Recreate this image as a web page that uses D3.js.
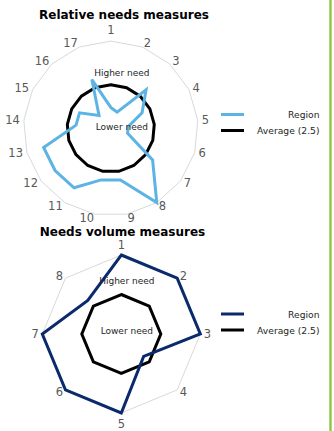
<!DOCTYPE html>
<html>
<head>
<meta charset="utf-8">
<script src="https://cdn.jsdelivr.net/npm/d3@7"></script>
<style>
  body { margin: 0; background: #fff; }
  svg { display: block; font-family: "DejaVu Sans", Verdana, sans-serif; }
</style>
</head>
<body>
<svg id="chart" width="334" height="431"></svg>
<script>
// relative needs (17 measures)
var relAxes = ["1", "2", "3", "4", "5", "6", "7", "8", "9", "10", "11", "12", "13", "14", "15", "16", "17"];
var relRegion = [1.2, 1, 3, 2, 1, 1, 3, 5, 3, 3, 4, 4, 4, 2, 2, 1, 3];
var relAverage = [2.5, 2.5, 2.5, 2.5, 2.5, 2.5, 2.5, 2.5, 2.5, 2.5, 2.5, 2.5, 2.5, 2.5, 2.5, 2.5, 2.5];

// needs volume (8 measures)
var volAxes = ["1", "2", "3", "4", "5", "6", "7", "8"];
var volRegion = [5, 5, 5, 2, 5, 5, 5, 3];
var volAverage = [2.5, 2.5, 2.5, 2.5, 2.5, 2.5, 2.5, 2.5];

var seriesNames = ["Region", "Average (2.5)"];
var maxValue = 5;

var svg = d3.select("#chart");

// green rule down the right edge
svg.append("rect")
    .attr("x", 329.3)
    .attr("y", 0)
    .attr("width", 2.4)
    .attr("height", 431)
    .attr("fill", "#8dc63f");

function radar(opts) {
    var n = opts.axes.length;
    var r = d3.scaleLinear().domain([0, maxValue]).range([0, opts.radius]);
    var angle = function(i) { return i * 2 * Math.PI / n; };

    var g = svg.append("g")
        .attr("transform", "translate(" + opts.cx + "," + opts.cy + ")");

    var line = d3.lineRadial()
        .angle(function(d, i) { return angle(i); })
        .radius(function(d) { return r(d); })
        .curve(d3.curveLinearClosed);

    // outer grid polygon
    g.append("path")
        .attr("d", line(opts.axes.map(function() { return maxValue; })))
        .attr("fill", "none")
        .attr("stroke", "#d9d9d9")
        .attr("stroke-width", 1);

    // axis labels, anchored on the side facing away from the centre
    var lr = r(maxValue) + opts.gap;
    g.selectAll("text.axis")
        .data(opts.axes)
        .enter().append("text")
        .attr("class", "axis")
        .attr("font-size", 11.5)
        .attr("fill", "#595959")
        .attr("dominant-baseline", "central")
        .text(function(d) { return d; })
        .each(function(d, i) {
            var s = Math.sin(angle(i)), c = Math.cos(angle(i));
            var vertical = Math.abs(s) < 0.01;
            var anchor = vertical ? "middle" : (s > 0 ? "start" : "end");
            var y = -c * lr - (vertical ? Math.sign(c) * 7 : 0);
            d3.select(this)
                .attr("text-anchor", anchor)
                .attr("x", vertical ? 0 : s * lr)
                .attr("y", y);
        });

    // average series
    g.append("path")
        .attr("d", line(opts.average))
        .attr("fill", "none")
        .attr("stroke", "#000")
        .attr("stroke-width", 3)
        .attr("stroke-linejoin", "miter");

    // region series
    g.append("path")
        .attr("d", line(opts.region))
        .attr("fill", "none")
        .attr("stroke", opts.color)
        .attr("stroke-width", 3)
        .attr("stroke-linejoin", "miter");

    // annotations
    g.append("text")
        .attr("x", opts.noteX)
        .attr("y", opts.higherY)
        .attr("text-anchor", "middle")
        .attr("font-size", 9)
        .attr("fill", "#262626")
        .text("Higher need");
    g.append("text")
        .attr("x", opts.noteX)
        .attr("y", opts.lowerY)
        .attr("text-anchor", "middle")
        .attr("font-size", 9)
        .attr("fill", "#262626")
        .text("Lower need");

    // title
    svg.append("text")
        .attr("x", opts.titleX)
        .attr("y", opts.titleY)
        .attr("text-anchor", "middle")
        .attr("font-size", 12)
        .attr("font-weight", "bold")
        .attr("fill", "#000")
        .text(opts.title);

    // legend
    var lg = svg.append("g");
    var colors = [opts.color, "#000"];
    seriesNames.forEach(function(name, i) {
        var y = opts.legendY + i * 16;
        lg.append("line")
            .attr("x1", 221).attr("x2", 244)
            .attr("y1", y).attr("y2", y)
            .attr("stroke", colors[i])
            .attr("stroke-width", 3);
        lg.append("text")
            .attr("x", 319.5)
            .attr("y", y + 3.5)
            .attr("text-anchor", "end")
            .attr("font-size", 9.2)
            .attr("fill", "#262626")
            .text(name);
    });
}

radar({
    title: "Relative needs measures",
    titleX: 124, titleY: 19,
    axes: relAxes, region: relRegion, average: relAverage,
    color: "#5cb3e4",
    cx: 110.8, cy: 128.4, radius: 87.3, gap: 4,
    noteX: 11, higherY: -52, lowerY: 2,
    legendY: 114.5
});

radar({
    title: "Needs volume measures",
    titleX: 122.5, titleY: 235.5,
    axes: volAxes, region: volRegion, average: volAverage,
    color: "#0b2a6b",
    cx: 121.3, cy: 334, radius: 79, gap: 3.5,
    noteX: 5.5, higherY: -50.5, lowerY: -0.5,
    legendY: 314
});
</script>
</body>
</html>
